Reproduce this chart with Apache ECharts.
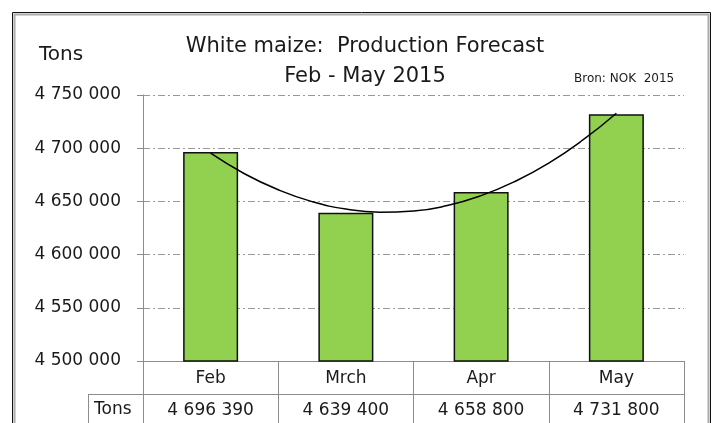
<!DOCTYPE html>
<html>
<head>
<meta charset="utf-8">
<script src="https://cdn.jsdelivr.net/npm/echarts@6/dist/echarts.min.js"></script>
<style>
  html, body { margin: 0; padding: 0; background: #fff; }
  #chart { width: 717px; height: 423px; }
</style>
</head>
<body>
<div id="chart"></div>
<script>
// data
var months = ['Feb', 'Mrch', 'Apr', 'May']
var tons = [4696390, 4639400, 4658800, 4731800]
// polynomial trend line (x: -1.5 = Feb centre ... 1.5 = May centre)
var trendX = [-1.5, -1.25, -1, -0.75, -0.5, -0.25, 0, 0.25, 0.5, 0.75, 1, 1.25, 1.5]
var trendY = [4695300, 4676000, 4660900, 4649800, 4642800, 4639900, 4641000, 4646100, 4655400, 4668700, 4686000, 4707500, 4732900]
var yTicks = { min: 4500000, max: 4750000, step: 50000 }

var FONT = 'DejaVu Sans'
var GRAY = '#8c8c8c'

function spaced(v) {
  return String(v).replace(/\B(?=(\d{3})+(?!\d))/g, ' ')
}

var chart = echarts.init(document.getElementById('chart'))

var option = {
  animation: false,
  textStyle: { fontFamily: FONT, color: '#000' },
  title: [
    {
      text: 'White maize:  Production Forecast\nFeb - May 2015',
      left: 360, top: 27, textAlign: 'center',
      textStyle: { fontFamily: FONT, fontSize: 21, fontWeight: 'normal', color: '#1a1a1a', lineHeight: 30 }
    },
    {
      text: 'Tons', left: 34, top: 40,
      textStyle: { fontFamily: FONT, fontSize: 20, fontWeight: 'normal', color: '#1a1a1a' }
    },
    {
      text: 'Bron: NOK  2015', left: 569, top: 68,
      textStyle: { fontFamily: FONT, fontSize: 12, fontWeight: 'normal', color: '#222' }
    }
  ],
  grid: { left: 143, right: 33, top: 95, bottom: 62 },
  xAxis: [
    {
      // category row of the data table
      type: 'category',
      data: months,
      position: 'bottom',
      axisLine: { lineStyle: { color: GRAY, width: 1 } },
      axisTick: { show: true, length: 70, lineStyle: { color: GRAY } },
      axisLabel: { fontFamily: FONT, fontSize: 17, color: '#1a1a1a', margin: 9 }
    },
    {
      // values row of the data table
      type: 'category',
      data: tons.map(spaced),
      position: 'bottom',
      offset: 33,
      axisLine: { lineStyle: { color: GRAY, width: 1 } },
      axisTick: { show: false },
      axisLabel: { fontFamily: FONT, fontSize: 17, color: '#1a1a1a', margin: 8 }
    },
    {
      // hidden axis for the trend curve
      type: 'value', min: -2, max: 2, show: false
    }
  ],
  yAxis: {
    type: 'value',
    min: yTicks.min, max: yTicks.max, interval: yTicks.step,
    axisLine: { show: true, onZero: false, lineStyle: { color: GRAY } },
    axisTick: { show: true, length: 6, lineStyle: { color: GRAY } },
    axisLabel: {
      fontFamily: FONT, fontSize: 17, color: '#1a1a1a', margin: 22,
      formatter: function (v) { return spaced(v) }
    },
    splitLine: { show: true, lineStyle: { color: '#999', width: 1.2, type: [7, 3, 2, 3] } }
  },
  series: [
    {
      name: 'Tons',
      type: 'bar',
      xAxisIndex: 0,
      data: tons,
      barWidth: 55,
      itemStyle: { color: '#92d050', borderColor: '#111', borderWidth: 1.5 }
    },
    {
      name: 'Trend',
      type: 'line',
      xAxisIndex: 2,
      data: trendX.map(function (x, i) { return [x, trendY[i]] }),
      smooth: true,
      symbol: 'none',
      lineStyle: { color: '#000', width: 1.5 },
      z: 5
    }
  ],
  graphic: [
    // outer frame
    { type: 'rect', shape: { x: 12.5, y: 12.5, width: 698, height: 430 }, style: { fill: 'none', stroke: '#111', lineWidth: 1 }, silent: true },
    { type: 'rect', shape: { x: 14.5, y: 14.5, width: 694, height: 430 }, style: { fill: 'none', stroke: '#aaa', lineWidth: 2 }, silent: true },
    // "Tons" header cell of the table
    { type: 'line', shape: { x1: 88, y1: 394.5, x2: 143, y2: 394.5 }, style: { stroke: GRAY, lineWidth: 1 }, silent: true },
    { type: 'line', shape: { x1: 88.5, y1: 394, x2: 88.5, y2: 423 }, style: { stroke: GRAY, lineWidth: 1 }, silent: true },
    { type: 'text', left: 94, top: 401, style: { text: 'Tons', font: '17px "DejaVu Sans"', fill: '#1a1a1a' }, silent: true }
  ]
}

chart.setOption(option)
</script>
</body>
</html>
